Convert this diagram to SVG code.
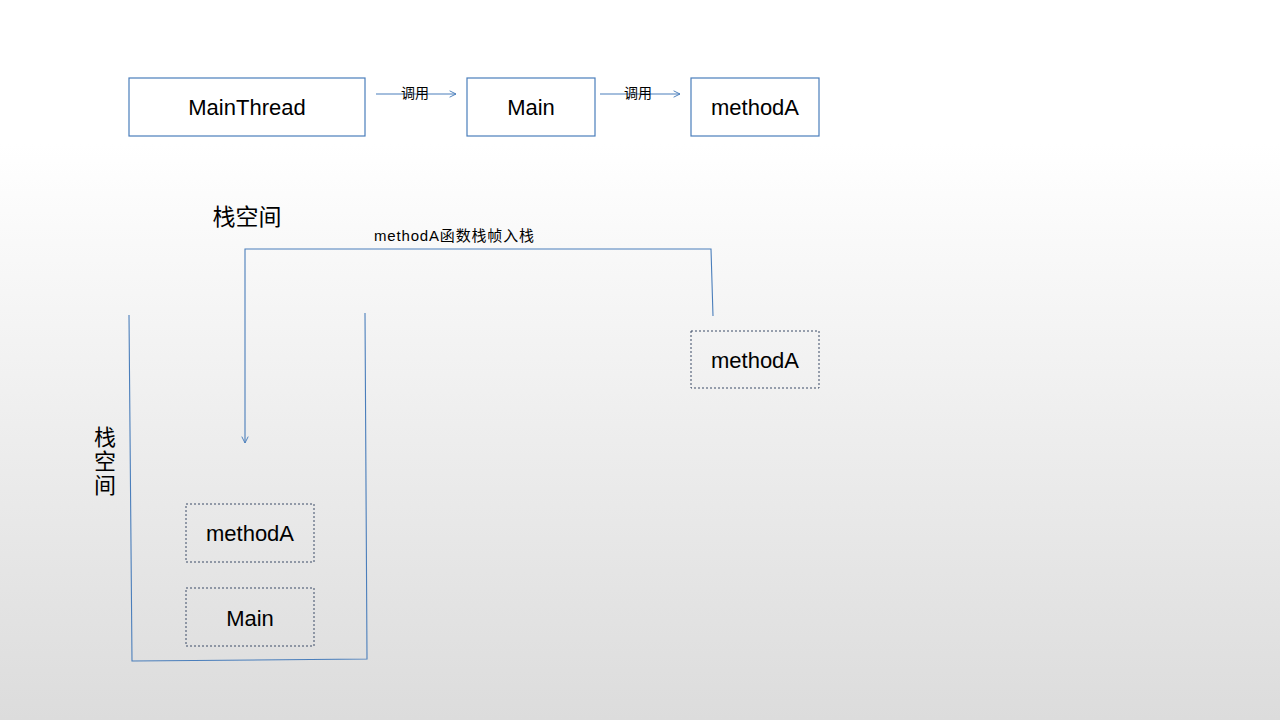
<svg xmlns="http://www.w3.org/2000/svg" width="1280" height="720" viewBox="0 0 1280 720">
<defs>
<linearGradient id="bg" x1="0" y1="0" x2="0" y2="1">
<stop offset="0" stop-color="#ffffff"/>
<stop offset="0.2" stop-color="#ffffff"/>
<stop offset="1" stop-color="#dcdcdc"/>
</linearGradient>
<marker id="arr" viewBox="0 0 10 10" refX="9" refY="5" markerWidth="8" markerHeight="8" markerUnits="userSpaceOnUse" orient="auto">
<path d="M1,1 L9,5 L1,9" fill="none" stroke="#4a7ebb" stroke-width="1.2"/>
</marker>
<style>
.box{fill:none;stroke:#4a7ebb;stroke-width:1.2}
.dbox{fill:none;stroke:#3a4a66;stroke-width:1;stroke-dasharray:2 2}
.line{fill:none;stroke:#4a7ebb;stroke-width:1.1}
.t{font-family:"Liberation Sans","Noto Sans CJK SC",sans-serif;fill:#000}
.lbl{font-size:22px;text-anchor:middle}
.cn{font-family:"Noto Sans CJK SC","Liberation Sans",sans-serif;fill:#000}
</style>
</defs>
<rect width="1280" height="720" fill="url(#bg)"/>
<g id="connectors">
<line class="line" x1="376" y1="94" x2="456" y2="94" marker-end="url(#arr)"/>
<line class="line" x1="600" y1="94" x2="680" y2="94" marker-end="url(#arr)"/>
<polyline class="line" points="713,316 711,249 245,249 245,443" marker-end="url(#arr)"/>
<text class="cn" x="415" y="98" font-size="14" text-anchor="middle">调用</text>
<text class="cn" x="638" y="98" font-size="14" text-anchor="middle">调用</text>
<text class="t" x="374" y="241" font-size="15" textLength="160" lengthAdjust="spacing">methodA<tspan font-family="Noto Sans CJK SC, sans-serif">函数栈帧入栈</tspan></text>
</g>
<g id="MainThread">
<rect class="box" x="129" y="78" width="236" height="58"/>
<text class="t lbl" x="247" y="115">MainThread</text>
</g>
<g id="Main">
<rect class="box" x="467" y="78" width="128" height="58"/>
<text class="t lbl" x="531" y="115">Main</text>
</g>
<g id="methodA">
<rect class="box" x="691" y="78" width="128" height="58"/>
<text class="t lbl" x="755" y="115">methodA</text>
</g>
<g id="title">
<text class="cn" x="247" y="225" font-size="23" text-anchor="middle">栈空间</text>
</g>
<g id="methodA-frame">
<rect class="dbox" x="691" y="331" width="128" height="57"/>
<text class="t lbl" x="755" y="368">methodA</text>
</g>
<g id="stack">
<polyline class="line" points="129,315 132,661 367,659 365,313"/>
<text class="cn" x="105" y="426" font-size="22" writing-mode="vertical-rl" letter-spacing="2">栈空间</text>
</g>
<g id="stack-methodA">
<rect class="dbox" x="186" y="504" width="128" height="58"/>
<text class="t lbl" x="250" y="541">methodA</text>
</g>
<g id="stack-Main">
<rect class="dbox" x="186" y="588" width="128" height="58"/>
<text class="t lbl" x="250" y="626">Main</text>
</g>
</svg>
